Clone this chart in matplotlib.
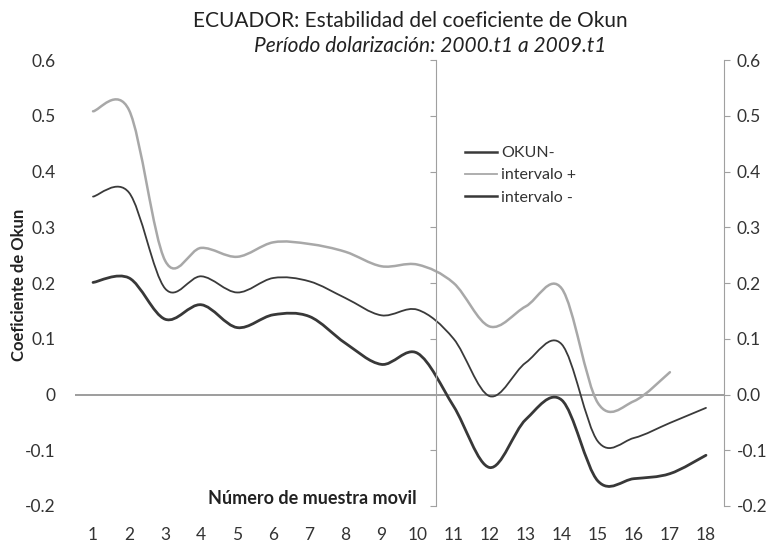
import numpy as np
import matplotlib.pyplot as plt
from matplotlib.path import Path
from matplotlib.patches import PathPatch
from matplotlib.lines import Line2D
from matplotlib.ticker import FormatStrFormatter

plt.rcParams['font.family'] = ['Lato', 'DejaVu Sans']

# valores
muestra = list(range(1, 19))
okun = [0.355, 0.362, 0.190, 0.212, 0.183, 0.209, 0.203, 0.173, 0.142,
        0.152, 0.100, -0.003, 0.057, 0.090, -0.084, -0.078, -0.051, -0.024]
intervalo_mas = [0.508, 0.510, 0.240, 0.263, 0.247, 0.273, 0.270, 0.256, 0.230,
                 0.233, 0.200, 0.122, 0.158, 0.190, -0.015, -0.012, 0.040]
intervalo_menos = [0.201, 0.209, 0.135, 0.161, 0.120, 0.143, 0.140, 0.092, 0.054,
                   0.074, -0.021, -0.131, -0.045, -0.010, -0.155, -0.151, -0.142, -0.109]

yticks = [-0.2, -0.1, 0.0, 0.1, 0.2, 0.3, 0.4, 0.5, 0.6]
yticklabels_izq = ["-0.2", "-0.1", "0", "0.1", "0.2", "0.3", "0.4", "0.5", "0.6"]

C_OKUN = "#3a3a3a"
C_MAS = "#a8a8a8"
C_MENOS = "#383838"
C_EJE = "#a0a0a0"
C_TXT = "#333333"


def smooth_path(xs, ys):
    # curva suavizada tipo Excel (Bezier por Catmull-Rom)
    pts = np.column_stack([xs, ys]).astype(float)
    n = len(pts)
    verts = [pts[0]]
    codes = [Path.MOVETO]
    for i in range(n - 1):
        p0 = pts[max(i - 1, 0)]
        p1 = pts[i]
        p2 = pts[i + 1]
        p3 = pts[min(i + 2, n - 1)]
        verts += [p1 + (p2 - p0) / 6, p2 - (p3 - p1) / 6, p2]
        codes += [Path.CURVE4] * 3
    return Path(verts, codes)


fig = plt.figure(figsize=(7.75, 5.42), dpi=100)
ax = fig.add_axes([75 / 775, 36 / 542, 649 / 775, 446 / 542])

series = [
    (muestra[:len(intervalo_mas)], intervalo_mas, C_MAS, 1.8, "intervalo +"),
    (muestra, okun, C_OKUN, 1.3, "OKUN-"),
    (muestra, intervalo_menos, C_MENOS, 2.0, "intervalo -"),
]
for xs, ys, col, lw, lab in series:
    ax.add_patch(PathPatch(smooth_path(xs, ys), fill=False, edgecolor=col,
                           lw=lw, capstyle="round", joinstyle="round"))

ax.axhline(0, color="#8c8c8c", lw=1.2, zorder=0)

ax.set_xlim(0.5, 18.5)
ax.set_ylim(-0.2, 0.6)
ax.set_xticks(muestra)
ax.tick_params(axis="x", length=0, pad=15, labelsize=12.5, labelcolor=C_TXT)

ax.spines["top"].set_visible(False)
ax.spines["bottom"].set_visible(False)
ax.spines["left"].set_position(("data", 10.5))
ax.spines["left"].set_color(C_EJE)
ax.spines["right"].set_color(C_EJE)
ax.set_yticks(yticks)
ax.yaxis.set_major_formatter(FormatStrFormatter("%.1f"))
ax.tick_params(axis="y", left=True, right=True, labelleft=False, labelright=True,
               direction="out", length=4, color=C_EJE, pad=5,
               labelsize=12.5, labelcolor=C_TXT)

sec = ax.secondary_yaxis(0.0)
sec.set_yticks(yticks, labels=yticklabels_izq)
for s in sec.spines.values():
    s.set_visible(False)
sec.tick_params(length=0, pad=14, labelsize=12.5, labelcolor=C_TXT)

handles = [
    Line2D([], [], color=C_OKUN, lw=1.8, label="OKUN-"),
    Line2D([], [], color=C_MAS, lw=1.3, label="intervalo +"),
    Line2D([], [], color=C_MENOS, lw=1.8, label="intervalo -"),
]
fig.legend(handles=handles, loc="upper left",
           bbox_to_anchor=(465 / 775, 1 - 146 / 542), frameon=False,
           fontsize=11.5, handlelength=2.0, handletextpad=0.25,
           labelspacing=0.5, borderpad=0, borderaxespad=0,
           labelcolor=C_TXT)

fig.text(410 / 775, 1 - 21 / 542, "ECUADOR: Estabilidad del coeficiente de Okun",
         ha="center", va="center", fontsize=15, color="#222222")
fig.text(430 / 775, 1 - 46 / 542, "Período dolarización: 2000.t1 a 2009.t1",
         ha="center", va="center", fontsize=15, style="italic", color="#222222")
fig.text(417 / 775, 1 - 499 / 542, "Número de muestra movil", ha="right",
         va="center", fontsize=13, fontweight="bold", color="#222222")
fig.text(19 / 775, 1 - 285 / 542, "Coeficiente de Okun", rotation=90,
         ha="center", va="center", fontsize=12, fontweight="bold", color="#222222")

fig.savefig("out.png", dpi=100)
